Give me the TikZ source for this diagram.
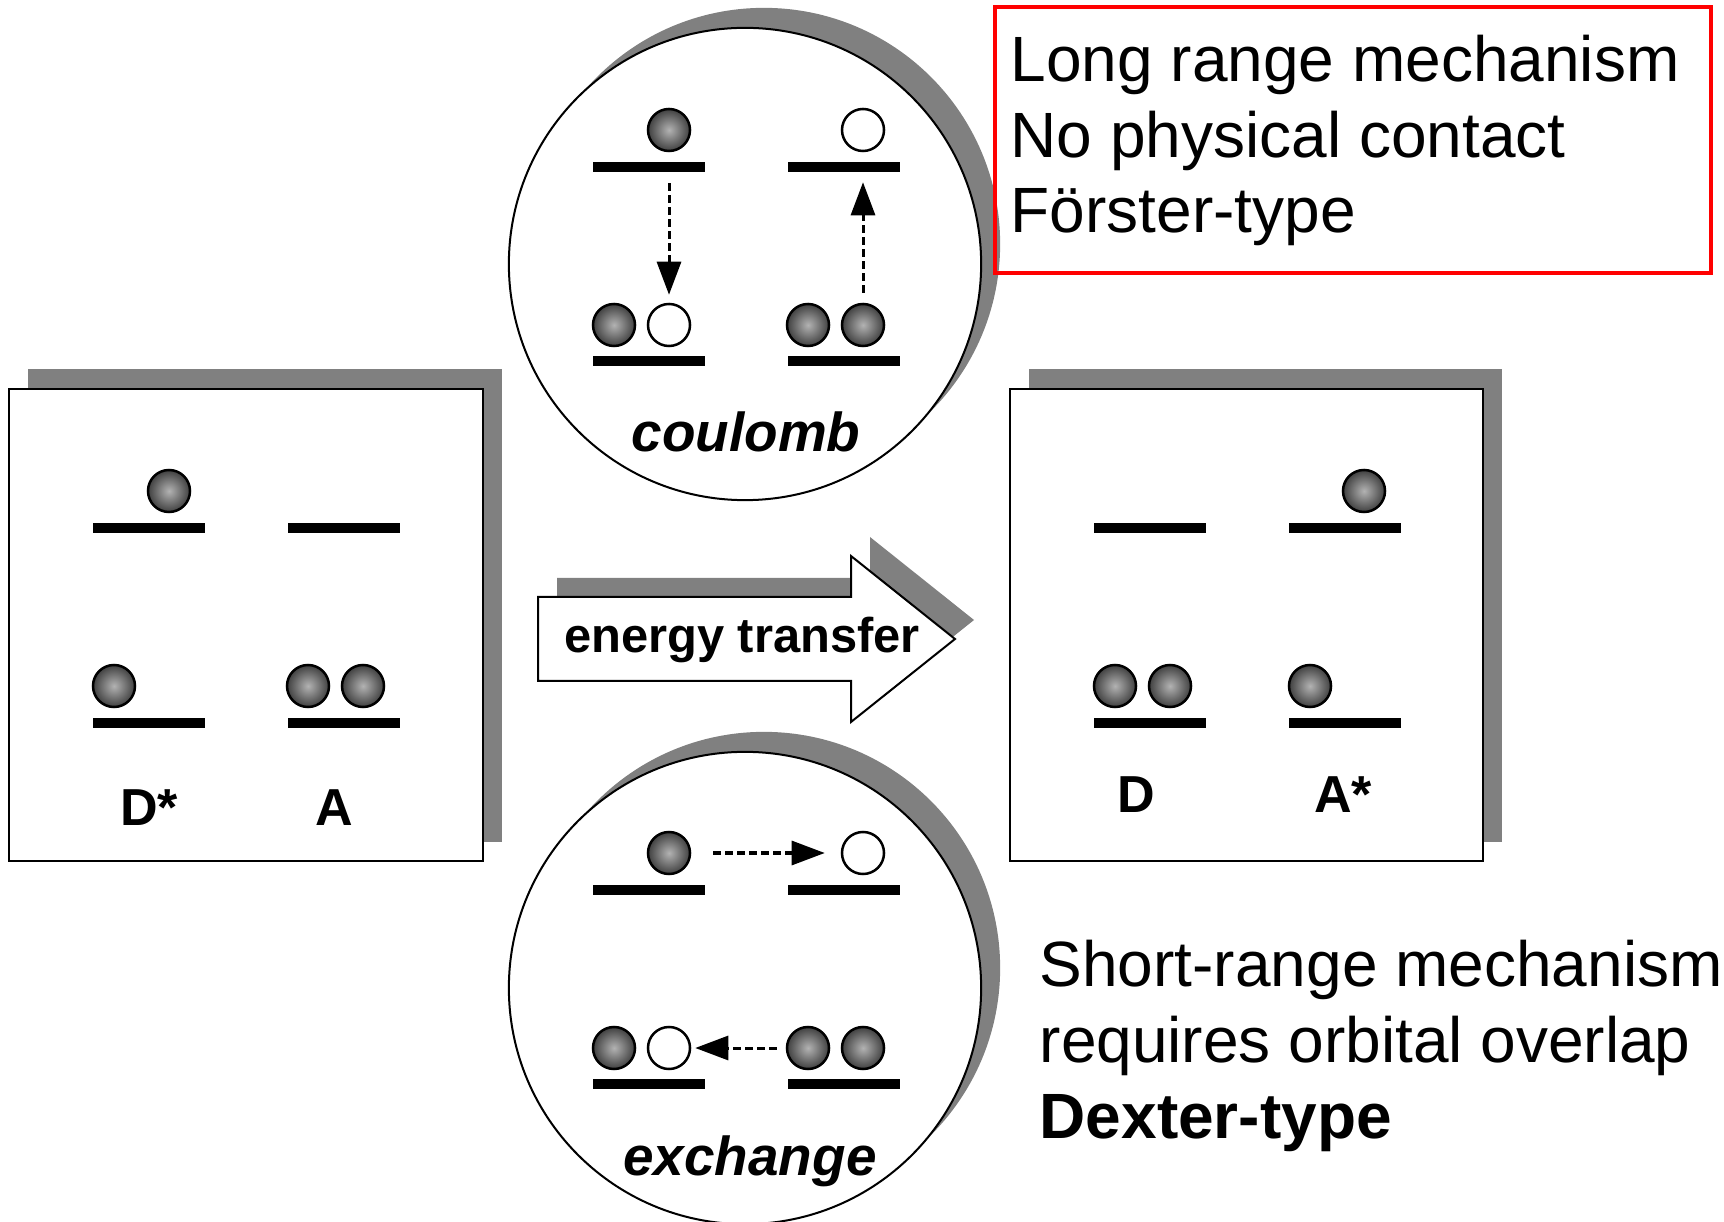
\documentclass[tikz,border=0pt]{standalone}
\usepackage{fontspec}
\setmainfont{Liberation Sans}
\usetikzlibrary{arrows.meta}

\begin{document}
\begin{tikzpicture}[x={(0.01cm,0cm)}, y={(0cm,-0.01cm)},
    %Option for nice arrows
    >={Triangle[length=3.3mm, width=2.4mm]}, %
    orbital/.style={line width=0.95mm},
    panel/.style={draw=black, line width=0.2mm, fill=white},
    backdrop/.style={fill=black!50},
    electron/.style={circle, draw=black, line width=0.25mm, minimum size=4.2mm, inner sep=0pt,
        inner color=black!30, outer color=black!75},
    hole/.style={circle, draw=black, line width=0.25mm, minimum size=4.2mm, inner sep=0pt, fill=white},
    hop/.style={->, line width=0.3mm, dash pattern=on 0.75mm off 0.45mm},
    species/.style={font=\fontsize{14.8}{17}\selectfont\bfseries, inner sep=0pt, anchor=base},
    mechanism/.style={font=\fontsize{15.6}{18}\selectfont\bfseries\itshape, inner sep=0pt, anchor=base},
    remark/.style={font=\fontsize{18.2}{21.6}\selectfont, align=left, inner sep=0pt, anchor=base west},
]
    \useasboundingbox (0,0) rectangle (1724,1222);

    % Before transfer: D* and A
    \fill[backdrop] (28,369) rectangle (502,842);
    \draw[panel] (9,389) rectangle (483,861);
    \begin{scope}[shift={(93,528)}]
        \foreach \x in {0,195}
            \foreach \y in {0,195}
                \draw[orbital] (\x,\y) -- ++(112,0);
        \node[electron] (lD1) at (76,-37) {};
        \node[electron] (lD2) at (21,158) {};
        \node[electron] (lA2) at (215,158) {};
        \node[electron] (lA3) at (270,158) {};
    \end{scope}
    \node[species] (Dstar) at (149,825) {D*};
    \node[species] (Aground) at (334,825) {A};

    % After transfer: D and A*
    \fill[backdrop] (1029,369) rectangle (1502,842);
    \draw[panel] (1010,389) rectangle (1483,861);
    \begin{scope}[shift={(1094,528)}]
        \foreach \x in {0,195}
            \foreach \y in {0,195}
                \draw[orbital] (\x,\y) -- ++(112,0);
        \node[electron] (rA1) at (270,-37) {};
        \node[electron] (rD2) at (21,158) {};
        \node[electron] (rD3) at (76,158) {};
        \node[electron] (rA2) at (216,158) {};
    \end{scope}
    \node[species] (Dground) at (1136,813) {D};
    \node[species] (Astar) at (1343,813) {A*};

    % Energy transfer arrow
    \fill[backdrop, shift={(19,-19)}] (538,597) -- (851,597) -- (851,556) -- (955,639)
        -- (851,722) -- (851,681) -- (538,681) -- cycle;
    \draw[panel] (538,597) -- (851,597) -- (851,556) -- (955,639)
        -- (851,722) -- (851,681) -- (538,681) -- cycle;
    \node[font=\fontsize{13.9}{16}\selectfont\bfseries, inner sep=0pt, anchor=base] (transfer)
        at (742,653) {energy transfer};

    % Coulomb mechanism
    \fill[backdrop] (764,244) circle (2.36cm);
    \draw[panel] (745,264) circle (2.36cm);
    \begin{scope}[shift={(593,167)}]
        \foreach \x in {0,195}
            \foreach \y in {0,194}
                \draw[orbital] (\x,\y) -- ++(112,0);
        \node[electron] (cD1) at (76,-37) {};
        \node[hole]     (cA1) at (270,-37) {};
        \node[electron] (cD2) at (21,158) {};
        \node[hole]     (cD3) at (76,158) {};
        \node[electron] (cA2) at (215,158) {};
        \node[electron] (cA3) at (270,158) {};
    \end{scope}
    \draw[hop, shorten <=3.1mm, shorten >=0.8mm] (cD1) -- (cD3);
    \draw[hop, shorten <=1.0mm, shorten >=3.0mm] (cA3) -- (cA1);
    \node[mechanism] (coulomb) at (746,452) {coulomb};

    % Exchange mechanism
    \fill[backdrop] (764,968) circle (2.36cm);
    \draw[panel] (745,988) circle (2.36cm);
    \begin{scope}[shift={(593,890)}]
        \foreach \x in {0,195}
            \foreach \y in {0,194}
                \draw[orbital] (\x,\y) -- ++(112,0);
        \node[electron] (xD1) at (76,-37) {};
        \node[hole]     (xA1) at (270,-37) {};
        \node[electron] (xD2) at (21,158) {};
        \node[hole]     (xD3) at (76,158) {};
        \node[electron] (xA2) at (215,158) {};
        \node[electron] (xA3) at (270,158) {};
    \end{scope}
    \draw[hop, shorten <=2.2mm, shorten >=1.6mm] (xD1) -- (xA1);
    \draw[hop, shorten <=0.9mm, shorten >=0.4mm] (xA2) -- (xD3);
    \node[mechanism] (exchange) at (750,1175) {exchange};

    % Notes (base anchor sits on the last line)
    \draw[red, line width=0.35mm] (995,7) rectangle (1711,273);
    \node[remark] (forster) at (1010,233) {Long range mechanism\\No physical contact\\Förster-type};
    \node[remark] (dexter) at (1039,1138) {Short-range mechanism\\requires orbital overlap\\\textbf{Dexter-type}};
\end{tikzpicture}
\end{document}
